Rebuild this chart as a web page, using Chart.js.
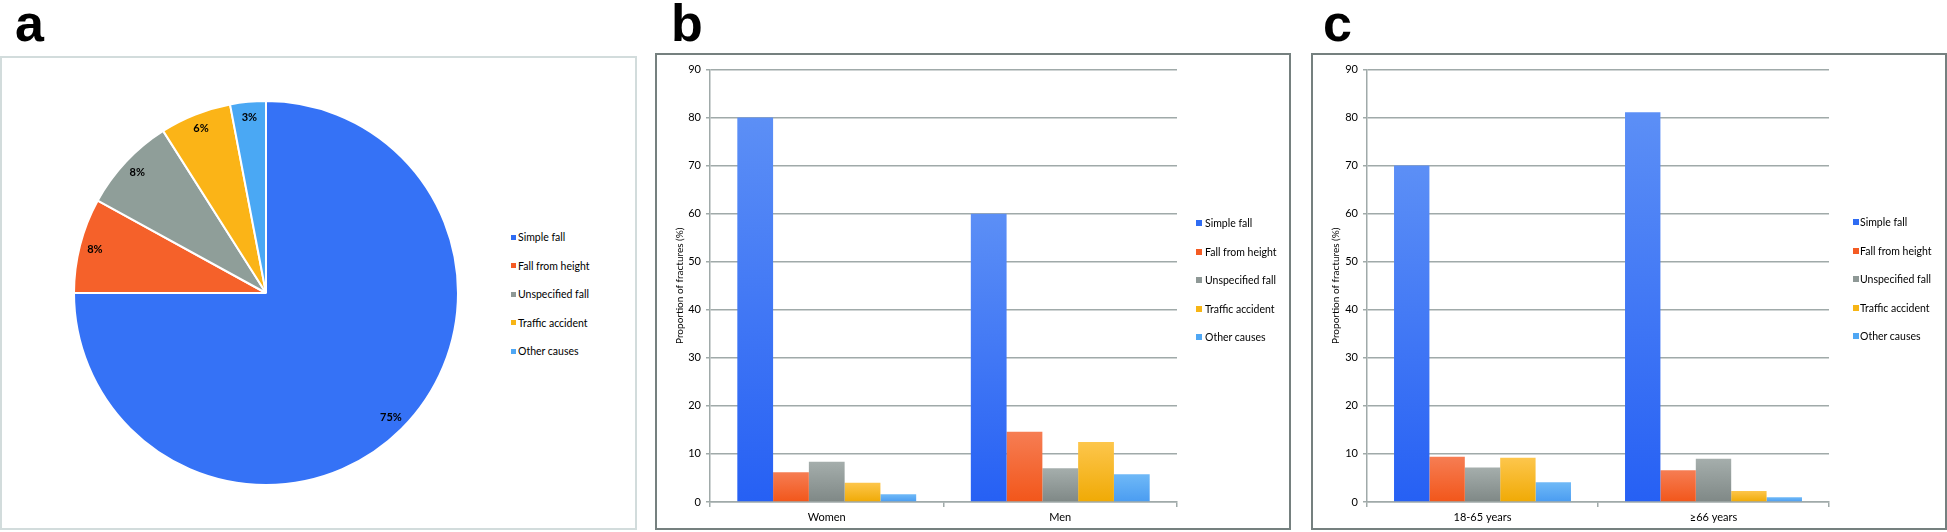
<!DOCTYPE html>
<html>
<head>
<meta charset="utf-8">
<script src="https://cdn.jsdelivr.net/npm/chart.js@4.4.1/dist/chart.umd.min.js"></script>
<style>
  body { margin: 0; background: #fff; width: 1947px; height: 532px; position: relative; overflow: hidden; font-family: Lato, "Liberation Sans", sans-serif; }
  .tag { position: absolute; top: -7px; line-height: 52px; font: bold 52px "Liberation Sans", Arial, sans-serif; color: #000; }
  .box { position: absolute; box-sizing: border-box; border: 2px solid #75807f; }
  canvas { position: absolute; }
  .leg { position: absolute; font-size: 10.5px; line-height: 12px; color: #000; white-space: nowrap; }
  .sw { position: absolute; }
</style>
</head>
<body>
<div class="tag" style="left:15px">a</div>
<div class="tag" style="left:671px">b</div>
<div class="tag" style="left:1323px">c</div>

<div class="box" style="left:0; top:56px; width:637px; height:474px; border-color:#d2dcdc"></div>
<div class="box" style="left:655px; top:53px; width:636px; height:477px"></div>
<div class="box" style="left:1311px; top:53px; width:636px; height:477px"></div>

<canvas id="pie" width="386" height="386" style="left:73px; top:100px"></canvas>
<canvas id="sex" width="632" height="473" style="left:657px; top:55px"></canvas>
<canvas id="age" width="632" height="473" style="left:1313px; top:55px"></canvas>

<script>
const causes = ['Simple fall', 'Fall from height', 'Unspecified fall', 'Traffic accident', 'Other causes'];

// panel a: share of all fractures (%)
const piePercent = [75, 8, 8, 6, 3];

// panel b: by sex
const sexGroups = ['Women', 'Men'];
const sexSimple = [80, 60];
const sexHeight = [6.2, 14.6];
const sexUnspec = [8.4, 7.0];
const sexTraffic = [4.0, 12.5];
const sexOther = [1.6, 5.8];

// panel c: by age
const ageGroups = ['18-65 years', '\u226566 years'];
const ageSimple = [70, 81.1];
const ageHeight = [9.4, 6.6];
const ageUnspec = [7.2, 9.0];
const ageTraffic = [9.2, 2.3];
const ageOther = [4.1, 1.0];

const yMax = 90;
const yStep = 10;

const pieColors = ['#3572f6', '#f5612a', '#8f9e99', '#fbb417', '#4aa8f4'];
const barTop = ['#5c8ff6', '#f67d53', '#a5aeac', '#fdc64c', '#6fb9f7'];
const barBottom = ['#2660f4', '#f2561a', '#7f8886', '#f0aa05', '#4a9cf1'];
const legColors = ['#2f6cf3', '#f45b23', '#8e9896', '#f7b515', '#4fa7f4'];
const gridColor = '#a0aaa9';
const textColor = '#000';

Chart.defaults.font.family = 'Lato, "Liberation Sans", sans-serif';

const pieLabels = {
  id: 'pieLabels',
  afterDatasetsDraw(chart) {
    const ctx = chart.ctx;
    const meta = chart.getDatasetMeta(0);
    ctx.save();
    ctx.font = 'bold 11px Lato';
    ctx.fillStyle = textColor;
    ctx.textAlign = 'center';
    ctx.textBaseline = 'middle';
    meta.data.forEach((arc, i) => {
      const p = arc.getProps(['x', 'y', 'startAngle', 'endAngle', 'outerRadius'], true);
      const mid = (p.startAngle + p.endAngle) / 2;
      const r = p.outerRadius * 0.92;
      ctx.fillText(piePercent[i] + '%', p.x + Math.cos(mid) * r, p.y + Math.sin(mid) * r);
    });
    ctx.restore();
  }
};

new Chart(document.getElementById('pie'), {
  type: 'pie',
  data: {
    labels: causes,
    datasets: [{
      data: piePercent,
      backgroundColor: pieColors,
      borderColor: '#fff',
      borderWidth: 2
    }]
  },
  options: {
    responsive: false,
    animation: false,
    plugins: { legend: { display: false }, tooltip: { enabled: false } }
  },
  plugins: [pieLabels]
});

function barFill(ctx, i) {
  const chart = ctx.chart;
  if (!chart.chartArea || ctx.type !== 'data') return barTop[i];
  const y = chart.scales.y;
  const top = y.getPixelForValue(ctx.raw);
  const bottom = y.getPixelForValue(0);
  const g = chart.ctx.createLinearGradient(0, top, 0, bottom);
  g.addColorStop(0, barTop[i]);
  g.addColorStop(1, barBottom[i]);
  return g;
}

function makeBars(id, groups, series, axisWidth, padRight) {
  new Chart(document.getElementById(id), {
    type: 'bar',
    data: {
      labels: groups,
      datasets: series.map((vals, i) => ({
        label: causes[i],
        data: vals,
        backgroundColor: ctx => barFill(ctx, i),
        borderWidth: 0,
        categoryPercentage: 0.766,
        barPercentage: 1
      }))
    },
    options: {
      responsive: false,
      animation: false,
      layout: { padding: { top: 14.5, right: padRight, left: 0, bottom: 0 } },
      plugins: { legend: { display: false }, tooltip: { enabled: false } },
      scales: {
        x: {
          grid: { drawOnChartArea: false, drawTicks: true, tickLength: 5, color: gridColor, lineWidth: 1.5 },
          border: { color: gridColor, width: 1.5 },
          ticks: { font: { size: 11 }, color: textColor, padding: 4 },
          afterFit: a => { a.height = 26; }
        },
        y: {
          min: 0,
          max: yMax,
          ticks: { stepSize: yStep, font: { size: 11 }, color: textColor, padding: 5 },
          grid: { color: gridColor, lineWidth: 1.5, tickLength: 4 },
          border: { color: gridColor, width: 1.5 },
          title: { display: true, text: 'Proportion of fractures (%)', font: { size: 10 }, color: textColor, padding: { top: 17, bottom: 0 } },
          afterFit: a => { a.width = axisWidth; }
        }
      }
    }
  });
}

makeBars('sex', sexGroups, [sexSimple, sexHeight, sexUnspec, sexTraffic, sexOther], 53, 112);
makeBars('age', ageGroups, [ageSimple, ageHeight, ageUnspec, ageTraffic, ageOther], 54, 116);

function legend(swX, textX, firstY, gap, size) {
  causes.forEach((name, i) => {
    const y = firstY + i * gap;
    const sw = document.createElement('div');
    sw.className = 'sw';
    sw.style.cssText = `left:${swX}px; top:${y - size / 2}px; width:${size}px; height:${size}px; background:${legColors[i]}`;
    document.body.appendChild(sw);
    const t = document.createElement('div');
    t.className = 'leg';
    t.style.cssText = `left:${textX}px; top:${y - 6}px`;
    t.textContent = name;
    document.body.appendChild(t);
  });
}
legend(511, 518, 237, 28.5, 5);
legend(1196, 1205, 223, 28.5, 6);
legend(1853, 1860, 222, 28.5, 6);
</script>
</body>
</html>
